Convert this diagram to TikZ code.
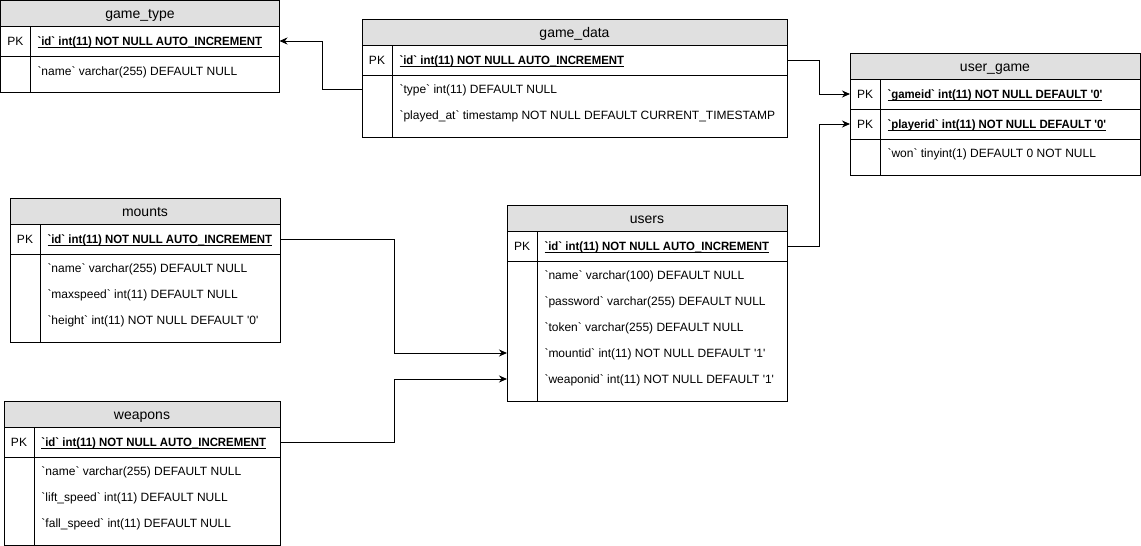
\documentclass[tikz,border=0pt]{standalone}
\usepackage{fontspec}
\usepackage{graphicx}
\setmainfont{Liberation Sans}[Ligatures=TeXOff]
\usetikzlibrary{arrows.meta}
\definecolor{hdrgray}{HTML}{E0E0E0}
\newcommand{\pkf}[1]{\scalebox{0.95}[1]{\textbf{\setbox0\hbox{#1}\rlap{\vrule height -1.6pt depth 2.6pt width \wd0}\box0}}}
\begin{document}
\begin{tikzpicture}[x=1pt,y=-1pt,line width=1pt,font=\fontsize{12}{14}\selectfont,
  hdr/.style={draw,fill=hdrgray,anchor=north west,inner sep=0pt,outer sep=0pt,minimum height=26pt,text height=10pt,text depth=0pt,font=\fontsize{14}{16}\selectfont},
  fld/.style={anchor=west,inner sep=0pt,text height=8.6pt,text depth=0pt},
  fk/.style={-{Stealth[length=8pt,width=7pt]}}]
\useasboundingbox (0,0) rectangle (1141,546);
% game_type
\node[hdr,minimum width=279pt] (gt) at (0.5,0.5) {game\_type};
\draw (0.5,26.5) rectangle (279.5,92) (0.5,56) -- (279.5,56) (30.5,26.5) -- (30.5,92);
\node (gt-pk) at (15.5,41) {PK};
\node[fld] (gt-id) at (37,41) {\pkf{`id` int(11) NOT NULL AUTO\_INCREMENT}};
\node[fld] (gt-1) at (37,71) {`name` varchar(255) DEFAULT NULL};
% game_data
\node[hdr,minimum width=425pt] (gd) at (362,19) {game\_data};
\draw (362,45) rectangle (787,137) (362,75) -- (787,75) (392,45) -- (392,137);
\node (gd-pk) at (377,60) {PK};
\node[fld] (gd-id) at (399,60) {\pkf{`id` int(11) NOT NULL AUTO\_INCREMENT}};
\foreach \f [count=\i] in {`type` int(11) DEFAULT NULL,`played\_at` timestamp NOT NULL DEFAULT CURRENT\_TIMESTAMP}
  \node[fld] (gd-\i) at (399,{89+26*(\i-1)}) {\f};
% user_game
\node[hdr,minimum width=290pt] (ug) at (850,53) {user\_game};
\draw (850,79) rectangle (1140,175) (850,109) -- (1140,109) (850,139) -- (1140,139) (880,79) -- (880,175);
\node (ug-pk1) at (865,94) {PK};
\node (ug-pk2) at (865,124) {PK};
\node[fld] (ug-gid) at (887,94) {\pkf{`gameid` int(11) NOT NULL DEFAULT '0'}};
\node[fld] (ug-pid) at (887,124) {\pkf{`playerid` int(11) NOT NULL DEFAULT '0'}};
\node[fld] (ug-1) at (887,153) {`won` tinyint(1) DEFAULT 0 NOT NULL};
% mounts
\node[hdr,minimum width=270pt] (mt) at (10,198) {mounts};
\draw (10,224) rectangle (280,342) (10,254) -- (280,254) (40,224) -- (40,342);
\node (mt-pk) at (25,239) {PK};
\node[fld] (mt-id) at (47,239) {\pkf{`id` int(11) NOT NULL AUTO\_INCREMENT}};
\foreach \f [count=\i] in {`name` varchar(255) DEFAULT NULL,`maxspeed` int(11) DEFAULT NULL,`height` int(11) NOT NULL DEFAULT '0'}
  \node[fld] (mt-\i) at (47,{268+26*(\i-1)}) {\f};
% users
\node[hdr,minimum width=280pt] (us) at (507,205) {users};
\draw (507,231) rectangle (787,401) (507,261) -- (787,261) (537,231) -- (537,401);
\node (us-pk) at (522,246) {PK};
\node[fld] (us-id) at (544,246) {\pkf{`id` int(11) NOT NULL AUTO\_INCREMENT}};
\foreach \f [count=\i] in {`name` varchar(100) DEFAULT NULL,`password` varchar(255) DEFAULT NULL,`token` varchar(255) DEFAULT NULL,`mountid` int(11) NOT NULL DEFAULT '1',`weaponid` int(11) NOT NULL DEFAULT '1'}
  \node[fld] (us-\i) at (544,{275+26*(\i-1)}) {\f};
% weapons
\node[hdr,minimum width=276pt] (wp) at (4,401) {weapons};
\draw (4,427) rectangle (280,545) (4,457) -- (280,457) (34,427) -- (34,545);
\node (wp-pk) at (19,442) {PK};
\node[fld] (wp-id) at (41,442) {\pkf{`id` int(11) NOT NULL AUTO\_INCREMENT}};
\foreach \f [count=\i] in {`name` varchar(255) DEFAULT NULL,`lift\_speed` int(11) DEFAULT NULL,`fall\_speed` int(11) DEFAULT NULL}
  \node[fld] (wp-\i) at (41,{471+26*(\i-1)}) {\f};
% foreign keys
\draw[fk] (gd.west |- gd-1) -- ++(-40,0) |- (gt.east |- gt-id);
\draw[fk] (gd.east |- gd-id) -- ++(32,0) |- (ug.west |- ug-gid);
\draw[fk] (us.east |- us-id) -- ++(32,0) |- (ug.west |- ug-pid);
\draw[fk] (mt.east |- mt-id) -- ++(114,0) |- (us.west |- us-4);
\draw[fk] (wp.east |- wp-id) -- ++(114,0) |- (us.west |- us-5);
\end{tikzpicture}
\end{document}
